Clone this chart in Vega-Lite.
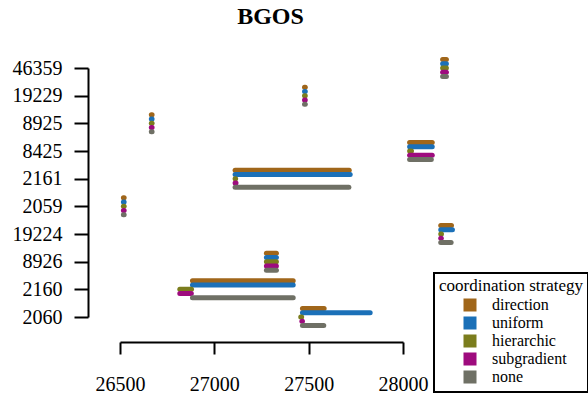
{
  "$schema": "https://vega.github.io/schema/vega-lite/v6.json",
  "width": 283,
  "height": 249,
  "autosize": {"type": "none"},
  "padding": {"left": 120, "top": 68, "right": 185, "bottom": 76},
  "background": "white",
  "title": {"text": "BGOS", "font": "Liberation Serif", "fontSize": 24, "fontWeight": "bold", "color": "black", "frame": "group", "anchor": "middle", "dx": 9, "offset": 28},
  "data": {"values": [
    {"target": "46359", "strategy": "direction", "start": 28210, "end": 28230},
    {"target": "46359", "strategy": "uniform", "start": 28210, "end": 28230},
    {"target": "46359", "strategy": "hierarchic", "start": 28210, "end": 28230},
    {"target": "46359", "strategy": "subgradient", "start": 28210, "end": 28230},
    {"target": "46359", "strategy": "none", "start": 28210, "end": 28230},
    {"target": "19229", "strategy": "direction", "start": 27478, "end": 27482},
    {"target": "19229", "strategy": "uniform", "start": 27478, "end": 27482},
    {"target": "19229", "strategy": "hierarchic", "start": 27478, "end": 27482},
    {"target": "19229", "strategy": "subgradient", "start": 27478, "end": 27482},
    {"target": "19229", "strategy": "none", "start": 27478, "end": 27482},
    {"target": "8925", "strategy": "direction", "start": 26666, "end": 26670},
    {"target": "8925", "strategy": "uniform", "start": 26666, "end": 26670},
    {"target": "8925", "strategy": "hierarchic", "start": 26666, "end": 26670},
    {"target": "8925", "strategy": "subgradient", "start": 26666, "end": 26670},
    {"target": "8925", "strategy": "none", "start": 26666, "end": 26670},
    {"target": "8425", "strategy": "direction", "start": 28035, "end": 28155},
    {"target": "8425", "strategy": "uniform", "start": 28035, "end": 28155},
    {"target": "8425", "strategy": "hierarchic", "start": 28035, "end": 28045},
    {"target": "8425", "strategy": "subgradient", "start": 28035, "end": 28155},
    {"target": "8425", "strategy": "none", "start": 28035, "end": 28150},
    {"target": "2161", "strategy": "direction", "start": 27110, "end": 27715},
    {"target": "2161", "strategy": "uniform", "start": 27110, "end": 27720},
    {"target": "2161", "strategy": "hierarchic", "start": 27110, "end": 27113},
    {"target": "2161", "strategy": "subgradient", "start": 27110, "end": 27115},
    {"target": "2161", "strategy": "none", "start": 27110, "end": 27713},
    {"target": "2059", "strategy": "direction", "start": 26518, "end": 26522},
    {"target": "2059", "strategy": "uniform", "start": 26518, "end": 26522},
    {"target": "2059", "strategy": "hierarchic", "start": 26518, "end": 26522},
    {"target": "2059", "strategy": "subgradient", "start": 26518, "end": 26522},
    {"target": "2059", "strategy": "none", "start": 26518, "end": 26522},
    {"target": "19224", "strategy": "direction", "start": 28200, "end": 28257},
    {"target": "19224", "strategy": "uniform", "start": 28200, "end": 28262},
    {"target": "19224", "strategy": "hierarchic", "start": 28200, "end": 28204},
    {"target": "19224", "strategy": "subgradient", "start": 28200, "end": 28203},
    {"target": "19224", "strategy": "none", "start": 28200, "end": 28255},
    {"target": "8926", "strategy": "direction", "start": 27276, "end": 27329},
    {"target": "8926", "strategy": "uniform", "start": 27276, "end": 27329},
    {"target": "8926", "strategy": "hierarchic", "start": 27276, "end": 27329},
    {"target": "8926", "strategy": "subgradient", "start": 27276, "end": 27329},
    {"target": "8926", "strategy": "none", "start": 27276, "end": 27329},
    {"target": "2160", "strategy": "direction", "start": 26884, "end": 27418},
    {"target": "2160", "strategy": "uniform", "start": 26884, "end": 27418},
    {"target": "2160", "strategy": "hierarchic", "start": 26817, "end": 26879},
    {"target": "2160", "strategy": "subgradient", "start": 26817, "end": 26878},
    {"target": "2160", "strategy": "none", "start": 26884, "end": 27418},
    {"target": "2060", "strategy": "direction", "start": 27467, "end": 27582},
    {"target": "2060", "strategy": "uniform", "start": 27467, "end": 27826},
    {"target": "2060", "strategy": "hierarchic", "start": 27458, "end": 27463},
    {"target": "2060", "strategy": "subgradient", "start": 27464, "end": 27467},
    {"target": "2060", "strategy": "none", "start": 27467, "end": 27580}
  ]},
  "mark": {"type": "rule", "strokeWidth": 5, "strokeCap": "round"},
  "encoding": {
    "y": {
      "field": "target", "type": "nominal",
      "sort": ["46359", "19229", "8925", "8425", "2161", "2059", "19224", "8926", "2160", "2060"],
      "scale": {"type": "point", "padding": 0},
      "axis": {"title": null, "offset": 32, "tickSize": 14, "tickWidth": 2, "tickColor": "black", "domainColor": "black", "domainWidth": 2, "labelFont": "Liberation Serif", "labelFontSize": 20, "labelColor": "black", "labelPadding": 12, "grid": false, "labelBaseline": "middle"}
    },
    "yOffset": {
      "field": "strategy", "type": "nominal",
      "sort": ["direction", "uniform", "hierarchic", "subgradient", "none"],
      "scale": {"type": "point", "padding": 0, "range": [-8.5, 8.5]}
    },
    "x": {
      "field": "start", "type": "quantitative",
      "scale": {"domain": [26500, 28000], "nice": false, "zero": false},
      "axis": {"title": null, "format": "d", "values": [26500, 27000, 27500, 28000], "offset": 25, "tickSize": 12, "tickWidth": 2, "tickColor": "black", "domainColor": "black", "domainWidth": 2, "labelFont": "Liberation Serif", "labelFontSize": 20, "labelColor": "black", "labelPadding": 20, "grid": false, "labelFlush": false, "labelOverlap": false}
    },
    "x2": {"field": "end"},
    "color": {
      "field": "strategy", "type": "nominal",
      "scale": {"domain": ["direction", "uniform", "hierarchic", "subgradient", "none"], "range": ["#A0661A", "#1B70B8", "#7B7D1D", "#9E0B7E", "#6F7065"]},
      "legend": {
        "title": "coordination strategy", "orient": "none", "legendX": 314, "legendY": 205,
        "titleFont": "Liberation Serif", "titleFontSize": 17, "titleFontWeight": "normal", "titleColor": "black", "titlePadding": 2, "titleLimit": 0,
        "labelFont": "Liberation Serif", "labelFontSize": 16, "labelColor": "black", "labelLimit": 0,
        "symbolType": "square", "symbolSize": 49, "symbolStrokeWidth": 2, "symbolStrokeColor": "black", "symbolOffset": 23, "labelOffset": 14,
        "rowPadding": -4, "padding": 5, "strokeColor": "black", "fillColor": "white", "cornerRadius": 0,
        "encode": {
          "symbols": {"update": {"fill": {"scale": "color", "field": "value"}, "fillOpacity": {"value": 1}, "stroke": {"value": "black"}, "strokeWidth": {"value": 2}, "size": {"value": 121}}}
        }
      }
    }
  },
  "config": {
    "font": "Liberation Serif",
    "view": {"stroke": null},
    "legend": {"strokeWidth": 2}
  }
}
